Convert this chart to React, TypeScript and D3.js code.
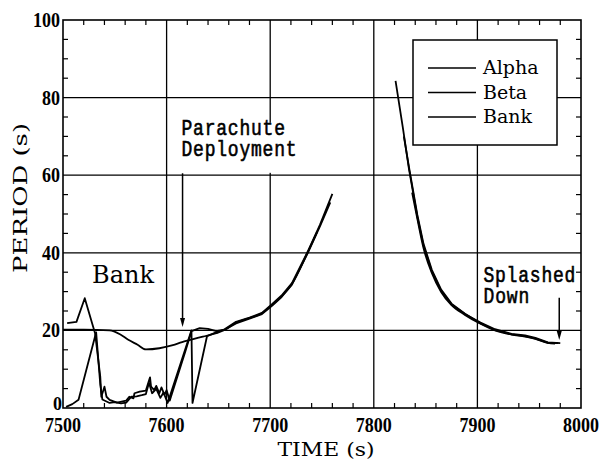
import React, { useEffect, useRef } from 'react';
import * as d3 from 'd3';

// NaN marks the gap between the two passes
const alphaTime = [7503, 7509, 7515, 7532, 7536, 7538, 7545, 7550, 7556, 7561, 7566, 7571, 7576, 7580, 7583, 7586, 7590, 7594, 7597, 7601, 7624, 7625, 7639, 7646, 7656, 7667, 7680, 7692, 7702, 7711, 7721, 7736, 7748, 7760, 7790, 7821, 7828, 7834, 7842, 7848, 7856, 7865, 7875, 7888, 7903, 7917, 7933, 7946, 7956, 7968, 7980];
const alphaPeriod = [0.3, 1.0, 2.1, 19.5, 6, 2.2, 1.3, 1.5, 1.2, 1.4, 2.9, 3.0, 3.3, 3.6, 6.5, 3.8, 4.9, 2.6, 4.0, 1.3, 20.0, 1.3, 18.5, 19.3, 20.3, 22.2, 23.3, 24.5, 26.8, 29.0, 32.2, 40.2, 47.2, 55.2, NaN, 84.3, 72.3, 61.5, 49.3, 41.8, 35.2, 30.2, 26.7, 24.2, 22.0, 20.3, 19.1, 18.7, 18.1, 16.9, 16.7];

const betaTime = [7504, 7513, 7521, 7531, 7536, 7537, 7540, 7542, 7545, 7552, 7561, 7564, 7568, 7569, 7574, 7580, 7584, 7585, 7588, 7590, 7593, 7595, 7598, 7600, 7603, 7618, 7624, 7632, 7640, 7648, 7656, 7667, 7680, 7692, 7702, 7711, 7721, 7736, 7748, 7758, 7790, 7829, 7834, 7842, 7848, 7856, 7865, 7875, 7888, 7903, 7917, 7933, 7946, 7956, 7968, 7978];
const betaPeriod = [21.9, 22.2, 28.3, 19.2, 8.0, 2.9, 5.5, 2.9, 2.1, 1.4, 1.9, 2.9, 2.5, 3.8, 4.2, 4.5, 7.9, 5.5, 4.6, 5.7, 3.8, 5.3, 3.4, 4.6, 1.9, 14.5, 19.8, 20.6, 20.4, 19.8, 20.2, 21.8, 23.0, 24.2, 26.4, 28.6, 31.8, 39.8, 46.8, 53.0, NaN, 70.0, 62.0, 49.8, 42.3, 35.6, 30.5, 26.9, 24.3, 21.8, 20.1, 19.0, 18.5, 17.9, 16.8, 16.7];

const bankTime = [7500, 7520, 7545, 7555, 7563, 7572, 7580, 7593, 7606, 7615, 7622, 7635, 7648, 7656, 7667, 7680, 7692, 7702, 7711, 7721, 7736, 7745, 7790, 7837, 7842, 7848, 7856, 7865, 7875, 7888, 7903, 7917, 7933, 7946, 7956, 7968, 7975];
const bankPeriod = [20.2, 20.2, 20.0, 19.0, 17.6, 16.3, 15.1, 15.4, 16.2, 17.0, 17.5, 18.4, 19.3, 20.1, 22.0, 23.2, 24.4, 26.6, 28.8, 32.0, 40.0, 45.2, NaN, 55.5, 48.8, 41.2, 34.8, 29.9, 26.5, 24.0, 21.7, 20.0, 18.9, 18.4, 17.8, 16.8, 16.6];

const xTicks = [7500, 7600, 7700, 7800, 7900, 8000];
const yTicks = [0, 20, 40, 60, 80, 100];
const legendNames = ['Alpha', 'Beta', 'Bank'];

const W = 604;
const H = 464;

function App() {
  const ref = useRef<SVGSVGElement>(null);

  useEffect(() => {
    document.body.style.margin = '0';
    const svg = d3.select(ref.current);
    svg.selectAll('*').remove();

    const x = d3.scaleLinear().domain([7500, 8000]).range([63, 581]);
    const y = d3.scaleLinear().domain([0, 100]).range([408, 20]);
    const [x0, x1] = x.range();
    const [y0, y1] = y.range();

    // grid
    const grid = svg.append('g').attr('stroke', '#000').attr('stroke-width', 1.3);
    grid.selectAll('line.gx')
      .data(xTicks.slice(1, -1))
      .join('line')
      .attr('x1', d => x(d)).attr('x2', d => x(d))
      .attr('y1', y1).attr('y2', y0);
    grid.selectAll('line.gy')
      .data(yTicks.slice(1, -1))
      .join('line')
      .attr('class', 'gy')
      .attr('x1', x0).attr('x2', x1)
      .attr('y1', d => y(d)).attr('y2', d => y(d));

    // minor ticks on all four sides, pointing inward
    const minorX = d3.range(7520, 8000, 20).filter(d => d % 100 !== 0);
    const minorY = d3.range(5, 100, 5).filter(d => d % 20 !== 0);
    const tk = svg.append('g').attr('stroke', '#000').attr('stroke-width', 1.2);
    minorX.forEach(d => {
      tk.append('line').attr('x1', x(d)).attr('x2', x(d)).attr('y1', y0).attr('y2', y0 - 5);
      tk.append('line').attr('x1', x(d)).attr('x2', x(d)).attr('y1', y1).attr('y2', y1 + 5);
    });
    minorY.forEach(d => {
      tk.append('line').attr('x1', x0).attr('x2', x0 + 5).attr('y1', y(d)).attr('y2', y(d));
      tk.append('line').attr('x1', x1).attr('x2', x1 - 5).attr('y1', y(d)).attr('y2', y(d));
    });

    // parachute text box hides the grid behind it
    svg.append('rect')
      .attr('x', x(7612)).attr('y', y(73.5))
      .attr('width', 122).attr('height', 50)
      .attr('fill', '#fff');

    // series
    const mk = (t: number[], v: number[]) => t.map((d, i) => [d, v[i]] as [number, number]);
    const series = [
      { pts: mk(alphaTime, alphaPeriod), curve: d3.curveLinear },
      { pts: mk(betaTime, betaPeriod), curve: d3.curveLinear },
      { pts: mk(bankTime, bankPeriod), curve: d3.curveMonotoneX },
    ];
    series.forEach(s => {
      const line = d3.line<[number, number]>()
        .defined(d => !isNaN(d[1]))
        .x(d => x(d[0]))
        .y(d => y(d[1]))
        .curve(s.curve);
      svg.append('path')
        .attr('d', line(s.pts))
        .attr('fill', 'none')
        .attr('stroke', '#000')
        .attr('stroke-width', 1.8)
        .attr('stroke-linejoin', 'round');
    });

    // frame
    svg.append('rect')
      .attr('x', x0).attr('y', y1)
      .attr('width', x1 - x0).attr('height', y0 - y1)
      .attr('fill', 'none').attr('stroke', '#000').attr('stroke-width', 1.6);

    // tick labels
    svg.append('g').selectAll('text')
      .data(xTicks)
      .join('text')
      .attr('x', d => x(d)).attr('y', 432)
      .attr('text-anchor', 'middle')
      .attr('font-family', 'Liberation Serif')
      .attr('font-weight', 'bold')
      .attr('font-size', 21)
      .attr('textLength', 36)
      .attr('lengthAdjust', 'spacingAndGlyphs')
      .text(d => d);
    svg.append('g').selectAll('text')
      .data(yTicks)
      .join('text')
      .attr('x', d => (d === 0 ? 62 : 60)).attr('y', d => (d === 0 ? y(d) + 2 : y(d) + 7))
      .attr('text-anchor', 'end')
      .attr('font-family', 'Liberation Serif')
      .attr('font-weight', 'bold')
      .attr('font-size', d => (d === 0 ? 19 : 21))
      .attr('textLength', d => String(d).length * 9)
      .attr('lengthAdjust', 'spacingAndGlyphs')
      .text(d => d);

    // axis titles
    svg.append('text')
      .attr('x', 326).attr('y', 456)
      .attr('text-anchor', 'middle')
      .attr('font-family', 'DejaVu Serif')
      .attr('font-size', 19)
      .attr('textLength', 97)
      .attr('lengthAdjust', 'spacingAndGlyphs')
      .text('TIME (s)');
    svg.append('text')
      .attr('transform', 'translate(27,198) rotate(-90)')
      .attr('text-anchor', 'middle')
      .attr('font-family', 'DejaVu Serif')
      .attr('font-size', 19)
      .attr('textLength', 150)
      .attr('lengthAdjust', 'spacingAndGlyphs')
      .text('PERIOD (s)');

    // annotations
    const mono = (t: number, v: number, s: string) =>
      svg.append('text')
        .attr('transform', `translate(${x(t)},${y(v)}) scale(1,1.2)`)
        .attr('font-family', 'Liberation Mono')
        .attr('font-size', 18)
        .attr('textLength', s.length * 11.5)
        .attr('stroke', '#000')
        .attr('stroke-width', 0.5)
        .text(s);
    mono(7614.4, 70.4, 'Parachute');
    mono(7614.4, 65, 'Deployment');
    mono(7905.8, 32.5, 'Splashed');
    mono(7905.8, 27, 'Down');

    svg.append('text')
      .attr('x', x(7528)).attr('y', y(32.2))
      .attr('font-family', 'DejaVu Serif')
      .attr('font-size', 24)
      .text('Bank');

    const arrow = (t: number, vFrom: number, vTo: number) => {
      const ax = x(t);
      svg.append('line')
        .attr('x1', ax).attr('x2', ax)
        .attr('y1', y(vFrom)).attr('y2', y(vTo) - 6)
        .attr('stroke', '#000').attr('stroke-width', 1.5);
      svg.append('path')
        .attr('d', `M${ax - 2.5},${y(vTo) - 9}L${ax + 2.5},${y(vTo) - 9}L${ax},${y(vTo)}Z`)
        .attr('fill', '#000');
    };
    arrow(7615.4, 60.5, 20.9);
    arrow(7979, 28.4, 17.5);

    // legend
    const lg = svg.append('g');
    lg.append('rect')
      .attr('x', 413).attr('y', 40).attr('width', 144).attr('height', 105)
      .attr('fill', '#fff').attr('stroke', '#000').attr('stroke-width', 1.5);
    legendNames.forEach((name, i) => {
      const ly = 68 + i * 24.5;
      lg.append('line')
        .attr('x1', 428).attr('x2', 476).attr('y1', ly).attr('y2', ly)
        .attr('stroke', '#000').attr('stroke-width', 1.6);
      lg.append('text')
        .attr('x', 483).attr('y', ly + 6)
        .attr('font-family', 'DejaVu Serif')
        .attr('font-size', 19)
        .text(name);
    });
  }, []);

  return <svg ref={ref} width={W} height={H} style={{ display: 'block', background: '#fff' }} />;
}

export default App;
